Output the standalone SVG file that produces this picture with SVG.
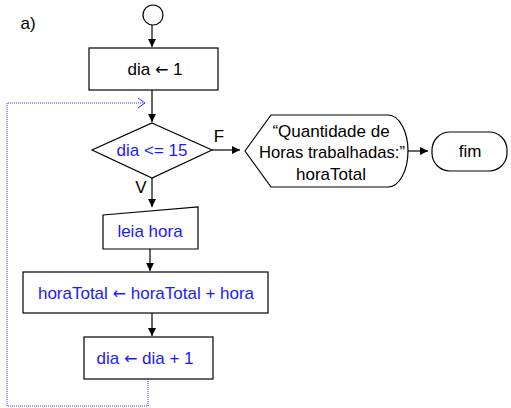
<svg xmlns="http://www.w3.org/2000/svg" width="511" height="408" viewBox="0 0 511 408">
<style>
.s{fill:#fff;stroke:#000;stroke-width:1.2}
.t{font-family:"Liberation Sans",Arial,sans-serif;font-size:17px;text-anchor:middle;fill:#000}
.b{fill:#1a1aff}
.a{font-family:"DejaVu Sans",sans-serif;font-size:16px}
.c{stroke:#000;stroke-width:1.2;fill:none}
.d{stroke:#3333ff;stroke-width:1;stroke-dasharray:1 1;fill:none}
</style>
<defs>
<marker id="ah" viewBox="0 0 10 10" refX="10" refY="5" markerWidth="8" markerHeight="8" markerUnits="userSpaceOnUse" orient="auto"><path d="M0,0L10,5L0,10z" fill="#000"/></marker>
</defs>
<text class="t" x="28" y="29">a)</text>
<g id="connectors">
<line class="c" x1="152" y1="25" x2="152" y2="47" marker-end="url(#ah)"/>
<line class="c" x1="152" y1="90" x2="152" y2="122" marker-end="url(#ah)"/>
<line class="c" x1="212" y1="150" x2="240" y2="150" marker-end="url(#ah)"/>
<line class="c" x1="152" y1="178" x2="152" y2="207" marker-end="url(#ah)"/>
<line class="c" x1="150" y1="249" x2="150" y2="271" marker-end="url(#ah)"/>
<line class="c" x1="152" y1="313" x2="152" y2="336" marker-end="url(#ah)"/>
<line class="c" x1="408" y1="151" x2="428" y2="151" marker-end="url(#ah)"/>
<polyline class="d" points="148,379 148,406 7,406 7,103 145,103"/>
<polyline fill="none" stroke="#3333ff" stroke-width="1" points="138,98 145,103 138,108"/>
<text class="t" x="219" y="142">F</text>
<text class="t" x="141" y="193">V</text>
</g>
<g id="start"><circle class="s" cx="153" cy="15" r="10"/></g>
<g id="init"><rect class="s" x="89" y="48" width="129" height="42"/><text class="t" x="155" y="75">dia <tspan class="a">←</tspan> 1</text></g>
<g id="cond"><polygon class="s" points="152,123 212,150 152,178 92,150"/><text class="t b" x="152" y="156">dia &lt;= 15</text></g>
<g id="output"><path class="s" d="M245,151 L271,115 L388,115 A20,36 0 0 1 388,187 L271,187 Z"/>
<text class="t" x="331" y="137">“Quantidade de</text>
<text class="t" x="332" y="158" textLength="146" lengthAdjust="spacingAndGlyphs">Horas trabalhadas:”</text>
<text class="t" x="331" y="180">horaTotal</text></g>
<g id="end"><rect class="s" x="432" y="132" width="75" height="39" rx="18" ry="18"/><text class="t" x="470" y="157">fim</text></g>
<g id="read"><polygon class="s" points="103,215 198,207 198,249 103,249"/><text class="t b" x="150" y="237">leia hora</text></g>
<g id="sum"><rect class="s" x="23" y="272" width="245" height="41"/><text class="t b" x="146" y="299">horaTotal <tspan class="a">←</tspan> horaTotal + hora</text></g>
<g id="inc"><rect class="s" x="84" y="337" width="129" height="42"/><text class="t b" x="145" y="364">dia <tspan class="a">←</tspan> dia + 1</text></g>
</svg>
